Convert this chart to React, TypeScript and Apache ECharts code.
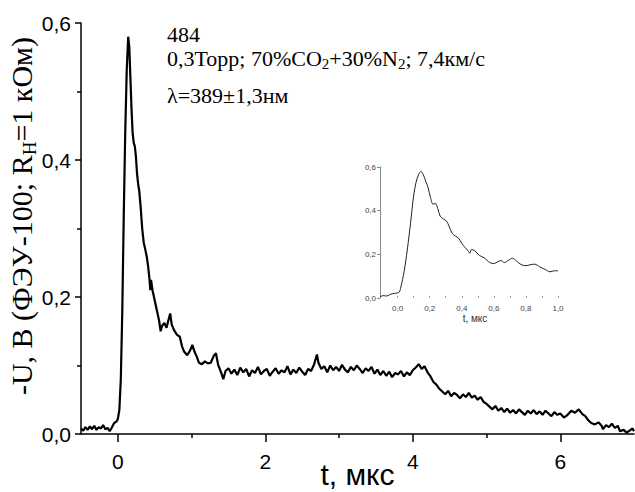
import React, { useEffect, useRef } from 'react';
import * as echarts from 'echarts';

// Main oscillogram: time (µs) and signal (V)
const mainTime = [
  -0.5, -0.47, -0.44, -0.41, -0.38, -0.35, -0.32, -0.29, -0.26, -0.23, -0.2, -0.17, -0.14, -0.11, -0.08, -0.05, -0.02,
  0.0, 0.02, 0.04, 0.06, 0.08, 0.1, 0.12, 0.14, 0.155, 0.17, 0.185, 0.2, 0.215, 0.23, 0.245, 0.26, 0.275, 0.29,
  0.31, 0.33, 0.35, 0.37, 0.39, 0.41, 0.43, 0.44, 0.45, 0.47, 0.5, 0.53, 0.56, 0.58, 0.6, 0.63, 0.66, 0.69, 0.71,
  0.73, 0.76, 0.8, 0.84, 0.87, 0.9, 0.94, 0.98, 1.01, 1.04, 1.07, 1.1, 1.14, 1.18, 1.22, 1.26, 1.3, 1.33, 1.36,
  1.4, 1.43, 1.46, 1.5, 1.54, 1.58, 1.62, 1.66, 1.7, 1.74, 1.78, 1.82, 1.86, 1.9, 1.94, 1.98, 2.02, 2.06, 2.1,
  2.14, 2.18, 2.22, 2.26, 2.3, 2.34, 2.38, 2.42, 2.46, 2.5, 2.54, 2.58, 2.62, 2.66, 2.7, 2.72, 2.76, 2.8, 2.84,
  2.88, 2.92, 2.96, 3.0, 3.04, 3.08, 3.12, 3.16, 3.2, 3.24, 3.28, 3.32, 3.36, 3.4, 3.44, 3.48, 3.52, 3.56, 3.6,
  3.64, 3.68, 3.72, 3.76, 3.8, 3.84, 3.88, 3.92, 3.96, 4.0, 4.04, 4.08, 4.12, 4.16, 4.2, 4.24, 4.28, 4.32, 4.36,
  4.4, 4.44, 4.48, 4.52, 4.56, 4.6, 4.64, 4.68, 4.72, 4.76, 4.8, 4.84, 4.88, 4.92, 4.96, 5.0, 5.04, 5.08, 5.12,
  5.16, 5.2, 5.24, 5.28, 5.32, 5.36, 5.4, 5.44, 5.48, 5.52, 5.56, 5.6, 5.64, 5.68, 5.72, 5.76, 5.8, 5.84, 5.88,
  5.92, 5.96, 6.0, 6.05, 6.1, 6.15, 6.2, 6.25, 6.3, 6.34, 6.38, 6.42, 6.47, 6.52, 6.56, 6.58, 6.62, 6.66, 6.7,
  6.74, 6.78, 6.81, 6.86, 6.9, 6.94, 6.98, 7.0,
];
const mainVolt = [
  0.008, 0.005, 0.01, 0.006, 0.011, 0.007, 0.012, 0.006, 0.01, 0.008, 0.013, 0.007, 0.009, 0.004, 0.01, 0.016, 0.018,
  0.022, 0.035, 0.08, 0.18, 0.32, 0.44, 0.53, 0.58, 0.565, 0.52, 0.475, 0.44, 0.425, 0.42, 0.405, 0.38, 0.365, 0.355,
  0.33, 0.3, 0.28, 0.27, 0.26, 0.245, 0.225, 0.21, 0.225, 0.21, 0.195, 0.18, 0.165, 0.15, 0.158, 0.162, 0.155, 0.168, 0.176,
  0.16, 0.152, 0.145, 0.142, 0.128, 0.12, 0.115, 0.122, 0.13, 0.12, 0.113, 0.104, 0.102, 0.106, 0.103, 0.104, 0.114, 0.118, 0.101,
  0.09, 0.08, 0.092, 0.096, 0.088, 0.094, 0.086, 0.097, 0.09, 0.095, 0.084, 0.093, 0.089, 0.098, 0.087, 0.092, 0.095, 0.085, 0.091,
  0.096, 0.088, 0.093, 0.09, 0.099, 0.087, 0.094, 0.089, 0.097, 0.091, 0.086, 0.095, 0.092, 0.101, 0.116, 0.104, 0.095, 0.099, 0.09,
  0.1, 0.093, 0.098, 0.092, 0.101, 0.094, 0.09, 0.098, 0.093, 0.1, 0.095, 0.089, 0.096, 0.092, 0.098, 0.088, 0.094, 0.086, 0.092,
  0.085, 0.091, 0.083, 0.089, 0.087, 0.092, 0.084, 0.09, 0.086, 0.093, 0.097, 0.102, 0.095, 0.099, 0.09, 0.084, 0.076, 0.072, 0.066,
  0.062, 0.058, 0.063, 0.055, 0.06, 0.057, 0.052, 0.058, 0.054, 0.06, 0.053, 0.056, 0.05, 0.054, 0.047, 0.044, 0.04, 0.036, 0.041,
  0.034, 0.038, 0.032, 0.037, 0.031, 0.035, 0.03, 0.036, 0.032, 0.028, 0.034, 0.03, 0.035, 0.029, 0.033, 0.028, 0.034, 0.03, 0.026,
  0.032, 0.028, 0.03, 0.024, 0.028, 0.034, 0.031, 0.036, 0.029, 0.026, 0.02, 0.016, 0.014, 0.017, 0.012, 0.007, 0.013, 0.01, 0.015,
  0.009, 0.012, 0.004, 0.006, 0.002, 0.005, 0.008, 0.004,
];

// Inset: zoomed start of the pulse
const insetTime = [
  -0.11, -0.09, -0.07, -0.05, -0.03, -0.01, 0.01, 0.02, 0.04, 0.06, 0.08, 0.1, 0.115, 0.13, 0.145, 0.16, 0.175, 0.19,
  0.205, 0.22, 0.235, 0.25, 0.265, 0.285, 0.305, 0.32, 0.34, 0.36, 0.38, 0.4, 0.42, 0.44, 0.45, 0.46, 0.48, 0.51, 0.54,
  0.575, 0.6, 0.625, 0.645, 0.665, 0.69, 0.715, 0.74, 0.77, 0.8, 0.825, 0.855, 0.885, 0.92, 0.95, 0.98, 1.0,
];
const insetVolt = [
  0.005, 0.011, 0.009, 0.015, 0.02, 0.022, 0.027, 0.05, 0.12, 0.22, 0.34, 0.47, 0.53, 0.565, 0.58, 0.565, 0.535, 0.505,
  0.46, 0.43, 0.433, 0.41, 0.375, 0.362, 0.352, 0.33, 0.296, 0.284, 0.274, 0.25, 0.232, 0.215, 0.205, 0.222, 0.217, 0.195, 0.184,
  0.162, 0.158, 0.166, 0.172, 0.162, 0.172, 0.182, 0.17, 0.153, 0.148, 0.152, 0.155, 0.143, 0.131, 0.12, 0.125, 0.124,
];

const mainXMajor = [0, 2, 4, 6];
const mainXMinor = [1, 3, 5];
const insetXLabels = [0, 0.2, 0.4, 0.6, 0.8, 1.0];
const insetXTicks = [0, 0.1, 0.2, 0.3, 0.4, 0.5, 0.6, 0.7, 0.8, 0.9, 1.0];

const SANS = '"Liberation Sans", Arial, sans-serif';
const SERIF = '"Liberation Serif", "Times New Roman", serif';
const comma1 = (v: number) => v.toFixed(1).replace('.', ',');

export default function App() {
  const ref = useRef<HTMLDivElement>(null);
  useEffect(() => {
    const chart = echarts.init(ref.current!, null, { renderer: 'svg' });
    const option: any = {
      animation: false,
      backgroundColor: '#fff',
      grid: [
        { left: 81, right: 1, top: 23, bottom: 58, outerBoundsMode: 'none', containLabel: false },
        { left: 380, top: 167, width: 178, height: 131, outerBoundsMode: 'none', containLabel: false },
      ],
      xAxis: [
        {
          type: 'value', gridIndex: 0, min: -0.5, max: 7, position: 'bottom',
          splitLine: { show: false },
          axisLine: { onZero: false, lineStyle: { color: '#000', width: 1.5 } },
          axisTick: { customValues: mainXMajor, length: 8, lineStyle: { color: '#000', width: 1.5 } },
          axisLabel: { customValues: mainXMajor, color: '#000', fontSize: 21, fontFamily: SANS, margin: 17, formatter: (v: number) => String(v) },
          name: 't, мкс', nameLocation: 'middle', nameGap: 25, nameMoveOverlap: false,
          nameTextStyle: { color: '#000', fontSize: 30, fontFamily: SANS },
        },
        {
          type: 'value', gridIndex: 0, min: -0.5, max: 7, position: 'bottom',
          splitLine: { show: false },
          axisLine: { show: false, onZero: false },
          axisTick: { customValues: mainXMinor, length: 4, lineStyle: { color: '#000', width: 1.5 } },
          axisLabel: { show: false },
        },
        {
          type: 'value', gridIndex: 1, min: -0.11, max: 1.0, position: 'bottom',
          splitLine: { show: false },
          axisLine: { show: false, onZero: false },
          axisTick: { customValues: insetXTicks, inside: true, length: 2, lineStyle: { color: '#999', width: 1 } },
          axisLabel: { customValues: insetXLabels, color: '#444', fontSize: 8, fontFamily: SANS, margin: 6, formatter: comma1 },
          name: 't, мкс', nameLocation: 'middle', nameGap: 15, nameMoveOverlap: false,
          nameTextStyle: { color: '#333', fontSize: 10, fontFamily: SANS, padding: [0, 0, 0, 12] },
        },
      ],
      yAxis: [
        {
          type: 'value', gridIndex: 0, min: 0, max: 0.6, interval: 0.2,
          splitLine: { show: false },
          axisLine: { show: true, onZero: false, lineStyle: { color: '#000', width: 1.5 } },
          axisTick: { show: true, length: 6, lineStyle: { color: '#000', width: 1.5 } },
          minorTick: { show: true, splitNumber: 2, length: 4, lineStyle: { color: '#000', width: 1.5 } },
          axisLabel: { color: '#000', fontSize: 21, fontFamily: SANS, margin: 10, formatter: comma1 },
        },
        {
          type: 'value', gridIndex: 1, min: 0, max: 0.6, interval: 0.2,
          splitLine: { show: false },
          axisLine: { show: true, onZero: false, lineStyle: { color: '#888', width: 1 } },
          axisTick: { show: true, length: 3, lineStyle: { color: '#888', width: 1 } },
          axisLabel: { color: '#444', fontSize: 8, fontFamily: SANS, margin: 4, formatter: comma1 },
        },
      ],
      series: [
        {
          type: 'line', xAxisIndex: 0, yAxisIndex: 0, showSymbol: false,
          lineStyle: { color: '#000', width: 2.2 },
          data: mainTime.map((t, i) => [t, mainVolt[i]]),
        },
        {
          type: 'line', xAxisIndex: 2, yAxisIndex: 1, showSymbol: false, smooth: 0.3,
          lineStyle: { color: '#222', width: 1 },
          data: insetTime.map((t, i) => [t, insetVolt[i]]),
        },
      ],
      graphic: [
        {
          type: 'text', x: 21, y: 216, rotation: Math.PI / 2,
          style: {
            text: '{a|-U, В (ФЭУ-100; R}{s|Н}{a|=1 кОм)}',
            align: 'center', verticalAlign: 'middle',
            rich: {
              a: { fontSize: 30, fontFamily: SERIF, lineHeight: 35, fill: '#000' },
              s: { fontSize: 19, fontFamily: SERIF, lineHeight: 19, verticalAlign: 'bottom', fill: '#000' },
            },
          },
        },
        {
          type: 'text', x: 167, y: 23,
          style: { text: '484', font: `22px ${SERIF}`, fill: '#000' },
        },
        {
          type: 'text', x: 167, y: 45,
          style: {
            text: '{a|0,3Торр; 70%CO}{s|2}{a|+30%N}{s|2}{a|; 7,4км/с}',
            rich: {
              a: { fontSize: 22, fontFamily: SERIF, lineHeight: 26, fill: '#000' },
              s: { fontSize: 15, fontFamily: SERIF, lineHeight: 15, verticalAlign: 'bottom', fill: '#000' },
            },
          },
        },
        {
          type: 'text', x: 167, y: 84,
          style: { text: 'λ=389±1,3нм', font: `22px ${SERIF}`, fill: '#000' },
        },
      ],
    };
    chart.setOption(option);
    return () => chart.dispose();
  }, []);
  return (
    <div
      ref={ref}
      style={{ position: 'fixed', left: 0, top: 0, width: 635, height: 492, background: '#fff' }}
    />
  );
}
